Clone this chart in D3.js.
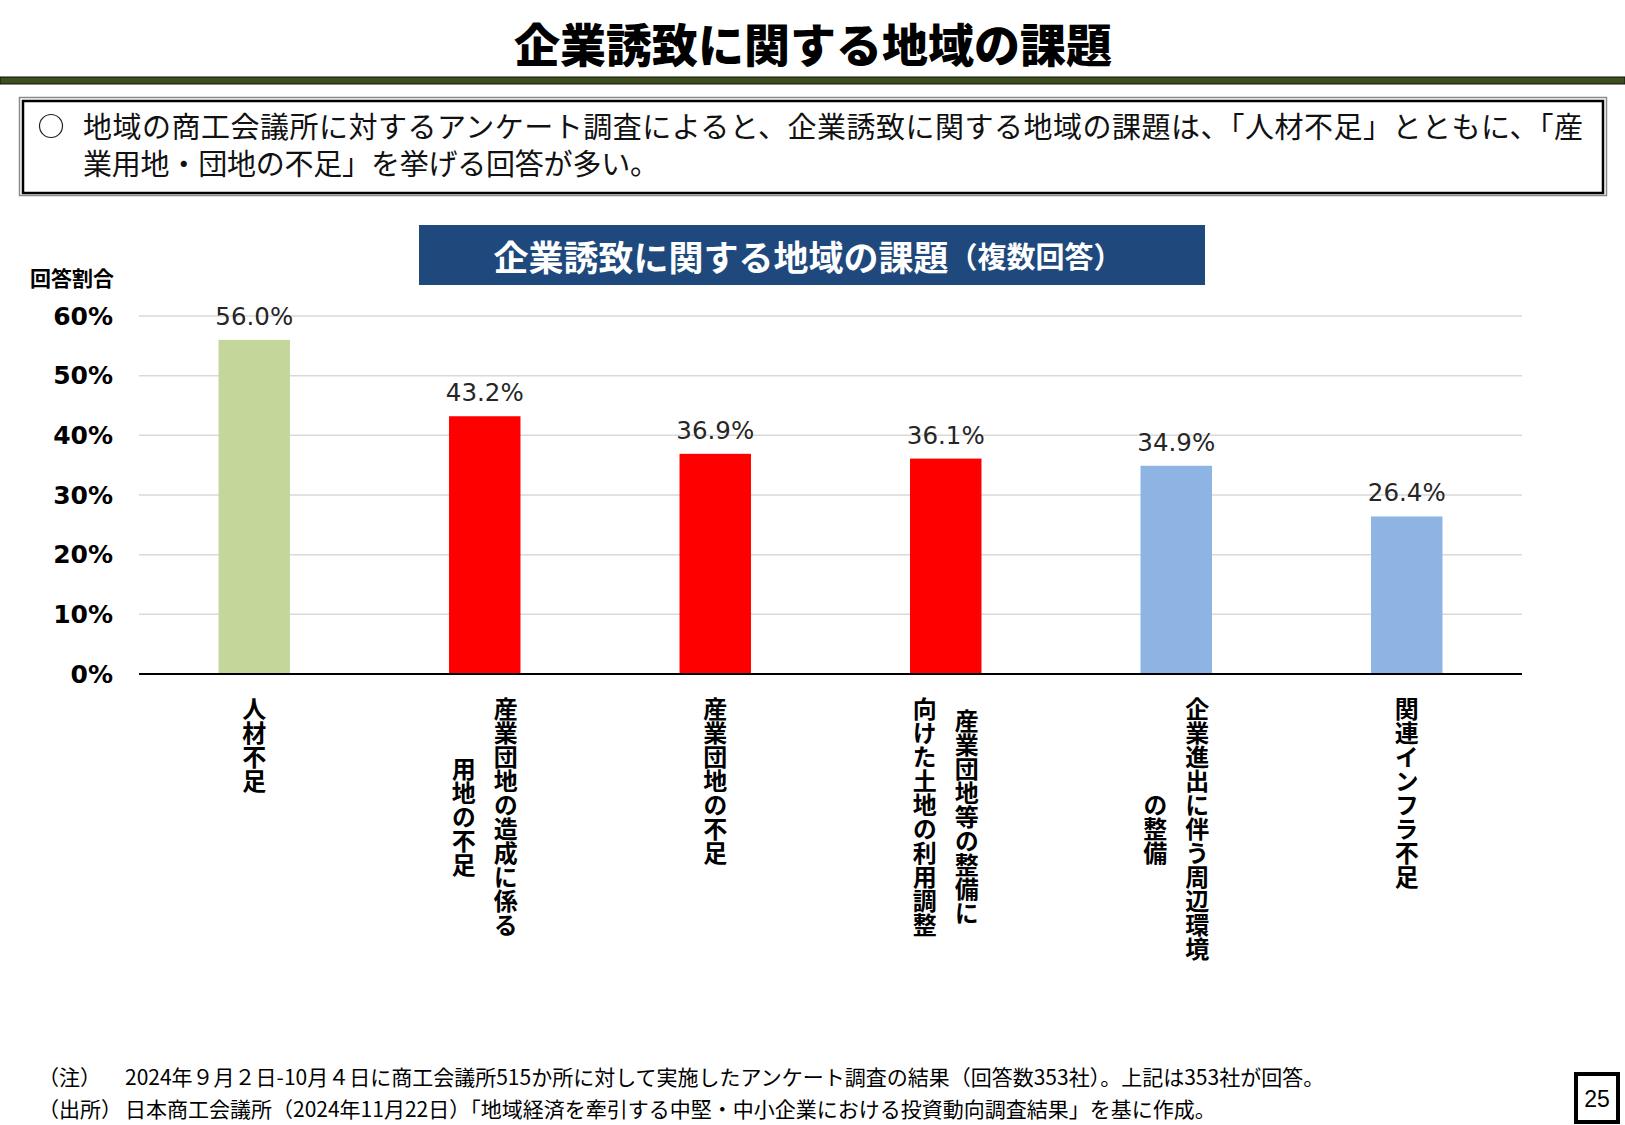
<!DOCTYPE html>
<html>
<head>
<meta charset="utf-8">
<script src="https://cdn.jsdelivr.net/npm/d3@7"></script>
<style>
  body { margin: 0; background: #fff; }
  svg { display: block; }
  .jp { font-family: "Noto Sans CJK JP", "Noto Sans", sans-serif; }
  .num { font-family: "DejaVu Sans", Verdana, sans-serif; }
  .vert { writing-mode: vertical-rl; }
</style>
</head>
<body>
<div id="chart"></div>
<script>
// data
const catLines = [
    ["人材不足"],
    ["産業団地の造成に係る", "用地の不足"],
    ["産業団地の不足"],
    ["産業団地等の整備に", "向けた土地の利用調整"],
    ["企業進出に伴う周辺環境", "の整備"],
    ["関連インフラ不足"]
];
const values = [56.0, 43.2, 36.9, 36.1, 34.9, 26.4];
const barColors = ["#c4d79b", "#ff0000", "#ff0000", "#ff0000", "#8db4e2", "#8db4e2"];
const yTicks = [0, 10, 20, 30, 40, 50, 60];

const pageTitle = "企業誘致に関する地域の課題";
const summaryLines = [
    "地域の商工会議所に対するアンケート調査によると、企業誘致に関する地域の課題は、「人材不足」とともに、「産",
    "業用地・団地の不足」を挙げる回答が多い。"
];
const summaryWidths = [1500, 576];
const chartTitle = "企業誘致に関する地域の課題";
const chartSubTitle = "（複数回答）";
const yAxisTitle = "回答割合";
const notes = [
    ["（注）", "2024年９月２日-10月４日に商工会議所515か所に対して実施したアンケート調査の結果（回答数353社）。上記は353社が回答。"],
    ["（出所）", "日本商工会議所（2024年11月22日）「地域経済を牽引する中堅・中小企業における投資動向調査結果」を基に作成。"]
];
const pageNo = "25";

const W = 1625, H = 1125;

const svg = d3.select("#chart").append("svg")
    .attr("width", W)
    .attr("height", H);

// page header
svg.append("text")
    .attr("class", "jp")
    .attr("x", 813).attr("y", 42)
    .attr("text-anchor", "middle")
    .attr("dominant-baseline", "central")
    .attr("font-size", 46)
    .attr("font-weight", 900)
    .text(pageTitle);

svg.append("rect")
    .attr("x", 0).attr("y", 77)
    .attr("width", W).attr("height", 7)
    .attr("fill", "#3d4f1c")
    .attr("stroke", "#111")
    .attr("stroke-width", 1);

// summary box (double frame)
svg.append("rect")
    .attr("x", 19.5).attr("y", 97.5)
    .attr("width", 1587).attr("height", 98)
    .attr("fill", "#fff")
    .attr("stroke", "#8a8a8a")
    .attr("stroke-width", 1.5);
svg.append("rect")
    .attr("x", 23).attr("y", 101)
    .attr("width", 1580).attr("height", 92)
    .attr("fill", "none")
    .attr("stroke", "#000")
    .attr("stroke-width", 2.5);

svg.append("circle")
    .attr("cx", 51).attr("cy", 126).attr("r", 11.5)
    .attr("fill", "none")
    .attr("stroke", "#222")
    .attr("stroke-width", 1.2);

svg.selectAll(".summary")
    .data(summaryLines)
    .enter().append("text")
    .attr("class", "summary jp")
    .attr("x", 83)
    .attr("y", (d, i) => 125 + i * 37)
    .attr("dominant-baseline", "central")
    .attr("font-size", 29)
    .attr("fill", "#111")
    .attr("textLength", (d, i) => summaryWidths[i])
    .attr("lengthAdjust", "spacing")
    .text(d => d);

// chart title box
svg.append("rect")
    .attr("x", 419).attr("y", 225)
    .attr("width", 786).attr("height", 60)
    .attr("fill", "#1f497d");

const ct = svg.append("text")
    .attr("class", "jp")
    .attr("x", 808).attr("y", 255)
    .attr("text-anchor", "middle")
    .attr("dominant-baseline", "central")
    .attr("fill", "#fff")
    .attr("font-weight", 700);
ct.append("tspan").attr("font-size", 35).text(chartTitle);
ct.append("tspan").attr("font-size", 29).text(chartSubTitle);

// chart
const margin = { left: 139, right: 103, top: 316, bottom: 451 };
const innerW = W - margin.left - margin.right;
const innerH = H - margin.top - margin.bottom;

const g = svg.append("g")
    .attr("transform", `translate(${margin.left}, ${margin.top})`);

const x = d3.scaleBand()
    .domain(d3.range(values.length))
    .range([0, innerW])
    .paddingInner(0.69)
    .paddingOuter(0.345);

const y = d3.scaleLinear()
    .domain([0, 60])
    .range([innerH, 0]);

// gridlines
g.selectAll(".grid")
    .data(yTicks.filter(d => d > 0))
    .enter().append("line")
    .attr("class", "grid")
    .attr("x1", 0).attr("x2", innerW)
    .attr("y1", d => y(d)).attr("y2", d => y(d))
    .attr("stroke", "#d9d9d9")
    .attr("stroke-width", 1.5);

// y axis labels
const yAxis = d3.axisLeft(y)
    .tickValues(yTicks)
    .tickFormat(d => d + "%")
    .tickSize(0)
    .tickPadding(26);

const yg = g.append("g").call(yAxis);
yg.select(".domain").remove();
yg.selectAll("text")
    .attr("class", "num")
    .attr("font-size", 25)
    .attr("font-weight", 700)
    .attr("fill", "#000");

svg.append("text")
    .attr("class", "jp")
    .attr("x", 30).attr("y", 277)
    .attr("dominant-baseline", "central")
    .attr("font-size", 21)
    .attr("font-weight", 700)
    .text(yAxisTitle);

// bars
g.selectAll(".bar")
    .data(values)
    .enter().append("rect")
    .attr("class", "bar")
    .attr("x", (d, i) => x(i))
    .attr("y", d => y(d))
    .attr("width", x.bandwidth())
    .attr("height", d => innerH - y(d))
    .attr("fill", (d, i) => barColors[i]);

// data labels
g.selectAll(".val")
    .data(values)
    .enter().append("text")
    .attr("class", "val num")
    .attr("x", (d, i) => x(i) + x.bandwidth() / 2)
    .attr("y", d => y(d) - 15)
    .attr("text-anchor", "middle")
    .attr("font-size", 24.5)
    .attr("fill", "#262626")
    .text(d => d.toFixed(1) + "%");

// x axis line
g.append("line")
    .attr("x1", 0).attr("x2", innerW)
    .attr("y1", innerH).attr("y2", innerH)
    .attr("stroke", "#000")
    .attr("stroke-width", 2);

// vertical category labels: columns right-to-left, centred on the longest one
const charStep = 24;
const colGap = 42;
const labelTop = innerH + 23;

catLines.forEach((lines, ci) => {
    const cx = x(ci) + x.bandwidth() / 2;
    const maxLen = d3.max(lines, l => l.length);
    const midY = labelTop + maxLen * charStep / 2;
    g.selectAll(null)
        .data(lines)
        .enter().append("text")
        .attr("class", "jp vert")
        .attr("x", (d, li) => cx + ((lines.length - 1) / 2 - li) * colGap)
        .attr("y", midY)
        .attr("text-anchor", "middle")
        .attr("font-size", 24)
        .attr("font-weight", 700)
        .text(d => d);
});

// notes
notes.forEach((n, i) => {
    const yy = 1076 + i * 32;
    svg.append("text")
        .attr("class", "jp")
        .attr("x", 38).attr("y", yy)
        .attr("dominant-baseline", "central")
        .attr("font-size", 21)
        .text(n[0]);
    svg.append("text")
        .attr("class", "jp")
        .attr("x", 125).attr("y", yy)
        .attr("dominant-baseline", "central")
        .attr("font-size", 21)
        .text(n[1]);
});

// page number
svg.append("rect")
    .attr("x", 1576).attr("y", 1074)
    .attr("width", 42).attr("height", 48)
    .attr("fill", "#fff")
    .attr("stroke", "#000")
    .attr("stroke-width", 4);
svg.append("text")
    .attr("x", 1597).attr("y", 1099)
    .attr("text-anchor", "middle")
    .attr("dominant-baseline", "central")
    .attr("font-family", "Liberation Sans, Arial, sans-serif")
    .attr("font-size", 23)
    .text(pageNo);
</script>
</body>
</html>
